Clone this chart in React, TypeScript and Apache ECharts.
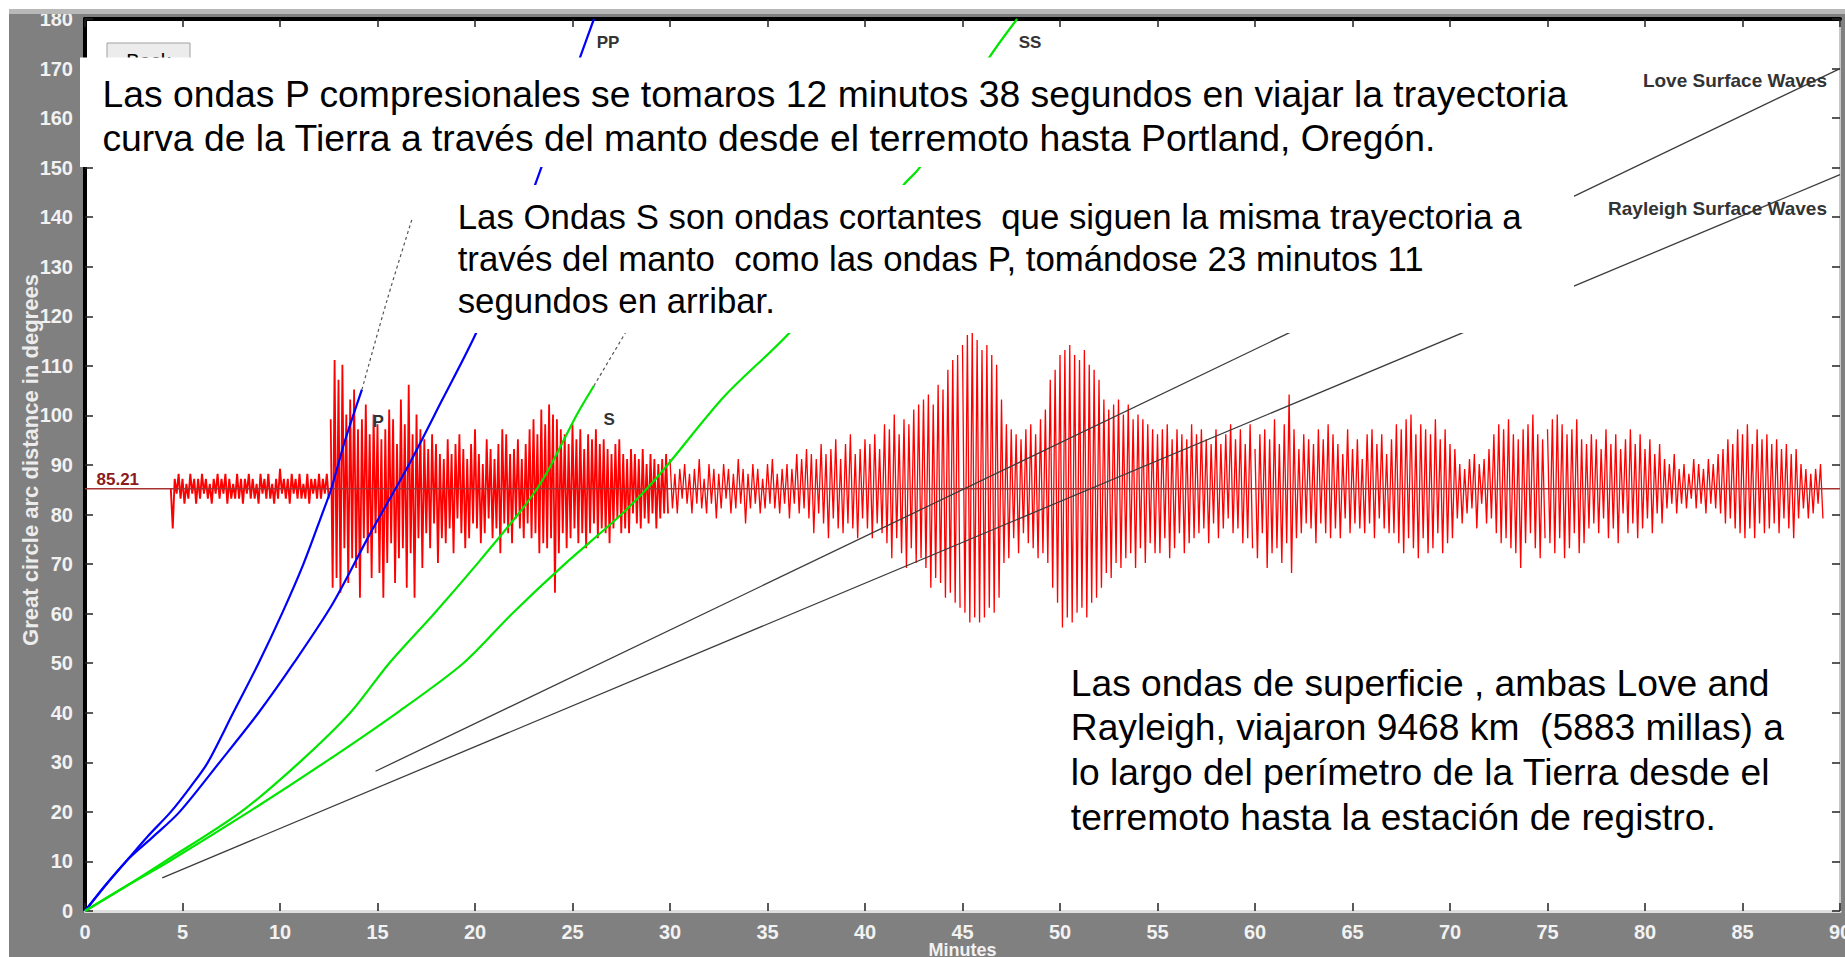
import React, { useEffect, useRef } from "react";
import * as echarts from "echarts";

// ---------- data ----------
const STATION_DISTANCE = 85.21; // degrees, Portland station
const X_MIN = 0;
const X_MAX = 90;
const X_INTERVAL = 5;
const Y_MIN = 0;
const Y_MAX = 180;
const Y_INTERVAL = 10;
const X_NAME = "Minutes";
const Y_NAME = "Great circle arc distance in degrees";

// seismogram deviations (degrees of plot offset)
const preEventNoise = [
  0, -8, 2, -1, 3, -2, 2, -3, 1, -2,
  3, -1, 2, -3, 2, -2, 3, -1, 2, -2,
  1, -3, 2, -1, 3, -2, 2, -1, 3, -3,
  2, -2, 1, -2, 3, -2, 2, -3, 2, -1,
  3, -2, 2, -2, 1, -3, 3, -1, 2, -2,
  3, -2, 1, -3, 2, -2, 4, -1, 2, -2,
  2, -3, 3, -1, 2, -2, 3, -2, 1, -2,
  3, -3, 2, -1, 2, -2, 3, -2, 2, -1,
  3, -2,
];
const bodyWaveCoda = [
  14, -20, 26, -18, 22, -21, 25, -12, 15, -19,
  18, -14, 20, -16, 12, -22, 14, -10, 17, -13,
  11, -18, 15, -9, 13, -17, 10, -22, 12, -15,
  16, -11, 14, -19, 9, -14, 18, -12, 13, -20,
  21, -13, 11, -22, 15, -10, 12, -16, 10, -9,
  8, -12, 11, -7, 9, -15, 7, -10, 6, -11,
  10, -8, 7, -13, 9, -6, 11, -9, 8, -12,
  6, -10, 9, -7, 12, -8, 7, -11, 5, -9,
  10, -6, 8, -10, 6, -8, 9, -13, 12, -7,
  11, -9, 7, -11, 8, -6, 10, -8, 6, -10,
  9, -7, 12, -10, 14, -9, 11, -13, 16, -11,
  13, -12, 17, -10, 15, -21, 14, -13, 12, -9,
  11, -12, 9, -10, 13, -8, 10, -11, 12, -9,
  8, -12, 11, -9, 10, -7, 12, -10, 9, -8,
  10, -9, 8, -11, 7, -8, 9, -6, 10, -9,
  7, -8, 6, -9, 8, -5, 7, -7, 6, -8,
  8, -6, 5, -7, 7, -5, 6, -8, 5, -6,
  6, -5, 7, -5,
];
const surfaceWavesEarly = [
  6, -4, 3, -5, 4, -2, 5, -3,
  3, -5, 4, -3, 6, -4, 2, -5,
  5, -3, 4, -6, 3, -4, 5, -2,
  4, -5, 3, -4, 6, -3, 4, -7,
  3, -4, 5, -3, 4, -5, 2, -4,
  5, -3, 6, -4, 3, -5, 4, -3,
  5, -6, 4, -3, 7, -5, 6, -4,
  8, -6, 7, -9, 6, -5, 9, -7,
  7, -10, 8, -6, 10, -8, 6, -9,
  9, -7, 11, -8, 7, -10, 8, -6,
  10, -8, 9, -10, 11, -7, 8, -9,
  13, -11, 12, -14, 15, -10, 11, -13,
  14, -16, 13, -12, 16, -15, 17, -14,
  18, -16, 19, -20, 17, -18, 21, -19,
  20, -22, 24, -21, 26, -23, 27, -24,
];
const surfaceWavesPeak = [
  29, -25, 31, -27, 32, -26, 30, -27,
  28, -26, 29, -24, 27, -25, 25, -22,
  18, -15, 13, -14, 12, -10, 11, -13,
  10, -9, 12, -11, 13, -12, 11, -14,
  14, -13, 16, -15, 22, -20, 24, -23,
  27, -28, 28, -26, 29, -27, 27, -25,
  26, -24, 28, -26, 25, -23, 24, -22,
  22, -20, 18, -17, 16, -18, 17, -15,
  18, -16, 15, -14, 17, -13, 14, -16,
  15, -12, 14, -15, 13, -11, 12, -13,
  11, -13, 12, -10, 13, -14, 10, -12,
  12, -9, 11, -13, 10, -11, 13, -10,
  11, -9, 12, -8, 10, -11, 9, -7,
  12, -10, 9, -8, 11, -6, 13, -9,
  10, -8, 12, -11, 9, -10, 13, -12,
];
const surfaceWavesLate = [
  8, -14, 11, -9, 12, -16, 10, -13,
  14, -12, 9, -15, 13, -11, 19, -17,
  12, -10, 8, -9, 11, -7, 10, -8,
  9, -11, 12, -7, 10, -9, 13, -10,
  11, -8, 9, -10, 7, -6, 12, -9,
  8, -7, 10, -8, 6, -9, 11, -7,
  12, -10, 9, -6, 11, -8, 7, -9,
  10, -9, 13, -11, 12, -13, 14, -10,
  15, -12, 11, -14, 13, -10, 12, -13,
  11, -12, 14, -9, 10, -13, 12, -11,
  9, -10, 8, -6, 5, -7, 4, -5,
  6, -4, 7, -8, 5, -3, 6, -7,
  8, -6, 11, -9, 13, -11, 12, -10,
  14, -12, 11, -13, 10, -16, 12, -11,
  13, -9, 15, -12, 11, -14, 10, -10,
];
const surfaceWavesTail = [
  12, -11, 14, -13, 15, -10, 13, -14,
  11, -12, 12, -9, 14, -13, 10, -11,
  9, -8, 11, -7, 10, -9, 8, -6,
  12, -10, 9, -8, 11, -11, 8, -5,
  10, -9, 12, -7, 9, -10, 11, -8,
  8, -6, 10, -9, 7, -5, 9, -7,
  6, -4, 5, -3, 7, -5, 4, -3,
  5, -4, 3, -2, 6, -4, 5, -3,
  4, -5, 6, -3, 5, -4, 7, -5,
  8, -7, 10, -6, 9, -8, 12, -9,
  11, -10, 13, -8, 9, -10, 12, -7,
  10, -9, 11, -8, 9, -7, 10, -9,
  8, -6, 9, -8, 7, -10, 8, -6,
  5, -4, 4, -6, 3, -5, 4, -3,
  5, -6,
];
// [start minute, sample step in minutes, values, stroke width]
const traceSegments: [number, number, number[], number][] = [
  [4.4, 0.1, preEventNoise, 1.9],
  [12.6, 0.1, bodyWaveCoda, 1.8],
  [30.0, 0.125, surfaceWavesEarly, 1.3],
  [45.0, 0.125, surfaceWavesPeak, 1.3],
  [60.0, 0.125, surfaceWavesLate, 1.3],
  [75.0, 0.125, surfaceWavesTail, 1.3],
];

// travel-time curves [minutes, degrees]
const pCurve = [[0, 0], [1.0, 5], [2.1, 10], [3.2, 15], [4.4, 20], [5.4, 25], [6.3, 30], [7.6, 40], [8.9, 50], [10.1, 60], [11.2, 70], [12.15, 80], [12.63, 85.21], [13.3, 94.5], [14.2, 105.2]];
const pDiffracted = [[14.2, 105.2], [15.5, 123.4], [16.8, 140]];
const ppCurve = [[0, 0], [2.1, 10], [3.5, 15], [4.85, 20], [6.9, 30], [8.9, 40], [10.7, 50], [12.7, 62], [14.6, 76], [16.6, 90], [18.3, 103], [20.1, 117], [21.8, 133], [23.4, 150], [25.4, 172.4], [26.1, 180]];
const sCurve = [[0, 0], [2.1, 5], [4.1, 10], [8.0, 20], [11.0, 30], [13.6, 40], [15.6, 50], [17.9, 60], [20.1, 70], [22.2, 80], [23.18, 85.21], [23.9, 90], [25.2, 100], [26.1, 106]];
const sDiffracted = [[26.1, 106], [27.7, 116.6], [28.2, 120]];
const ssCurve = [[0, 0], [2.1, 5], [4.3, 10], [8.4, 20], [12.3, 30], [16.0, 40], [19.4, 50], [21.9, 60], [24.6, 70], [27.5, 80], [29.4, 87.8], [32.8, 103.9], [36.2, 117], [39.2, 132], [42.0, 146.6], [42.8, 150], [46.4, 172.4], [47.8, 180]];
const loveLine = [[14.9, 28.2], [90, 170]];
const rayleighLine = [[3.96, 6.7], [90, 148.6]];

const annotationP = [
  "Las ondas P compresionales se tomaros 12 minutos 38 segundos en viajar la trayectoria",
  "curva de la Tierra a través del manto desde el terremoto hasta Portland, Oregón.",
];
const annotationS = [
  "Las Ondas S son ondas cortantes  que siguen la misma trayectoria a",
  "través del manto  como las ondas P, tomándose 23 minutos 11",
  "segundos en arribar.",
];
const annotationSurface = [
  "Las ondas de superficie , ambas Love and",
  "Rayleigh, viajaron 9468 km  (5883 millas) a",
  "lo largo del perímetro de la Tierra desde el",
  "terremoto hasta la estación de registro.",
];

// ---------- chart ----------
const SANS = "'Liberation Sans', Arial, sans-serif";

function segmentData(start: number, step: number, vals: number[]) {
  return vals.map((v, i) => [+(start + i * step).toFixed(4), STATION_DISTANCE + v]);
}

const tickLabel = {
  color: "#f2f2f2",
  fontFamily: SANS,
  fontWeight: "bold" as const,
  fontSize: 20,
  textShadowColor: "#000",
  textShadowBlur: 0,
  textShadowOffsetX: 1,
  textShadowOffsetY: 1,
};

function lineSeries(name: string, data: number[][], color: string, width: number, type: any = "solid", z = 4, smooth: any = false) {
  return {
    name,
    type: "line",
    data,
    symbol: "none",
    showSymbol: false,
    silent: true,
    smooth,
    z,
    lineStyle: { color, width, type },
  };
}

function textEl(text: string, x: number, y: number, size: number, opts: any = {}) {
  const align = opts.align || "left";
  return {
    type: "text",
    x,
    y,
    rotation: opts.rotation || 0,
    z: opts.z ?? 101,
    silent: true,
    style: {
      text,
      fill: opts.fill || "#000",
      fontSize: size,
      fontFamily: opts.family || SANS,
      fontWeight: opts.weight || "normal",
      align,
      textAlign: align,
      verticalAlign: "middle",
      textVerticalAlign: "middle",
      textShadowColor: opts.shadow ? "#000" : undefined,
      textShadowOffsetX: opts.shadow ? 1 : 0,
      textShadowOffsetY: opts.shadow ? 1 : 0,
      textShadowBlur: 0,
    },
  };
}

function buildOption() {
  const smallBold = { weight: "bold", fill: "#333" };
  const graphics: any[] = [
    { type: "rect", z: 1, silent: true, shape: { x: 0, y: 0, width: 1836, height: 5 }, style: { fill: "#b8b8b8" } },
    { type: "rect", z: 50, silent: true, shape: { x: 98, y: 34, width: 83, height: 30 }, style: { fill: "#ececec", stroke: "#a0a0a0", lineWidth: 1 } },
    textEl("Back", 139.5, 52, 20, { align: "center", z: 51 }),
    { type: "rect", z: 100, silent: true, shape: { x: 71, y: 48.5, width: 1494, height: 109.5 }, style: { fill: "#ffffff" } },
    { type: "rect", z: 100, silent: true, shape: { x: 438, y: 176, width: 1127, height: 148 }, style: { fill: "#ffffff" } },
    textEl("P", 363.4, 412.3, 17, smallBold),
    textEl("S", 594.6, 410, 17, smallBold),
    textEl("PP", 599, 33.4, 17, { ...smallBold, align: "center" }),
    textEl("SS", 1021, 33.4, 17, { ...smallBold, align: "center" }),
    textEl("Love Surface Waves", 1818, 71, 19, { ...smallBold, align: "right" }),
    textEl("Rayleigh Surface Waves", 1818, 199, 19, { ...smallBold, align: "right" }),
    textEl(STATION_DISTANCE.toFixed(2), 87.5, 470, 17, { weight: "bold", fill: "#8b1a1a" }),
    textEl(Y_NAME, 21, 451, 22, { align: "center", weight: "bold", fill: "#ececec", rotation: Math.PI / 2, shadow: true, z: 20 }),
    textEl(X_NAME, 953.5, 941, 18, { align: "center", weight: "bold", fill: "#f2f2f2", shadow: true, z: 20 }),
  ];
  annotationP.forEach((t, i) => graphics.push(textEl(t, 93.4, 85 + i * 43.7, 37.3)));
  annotationS.forEach((t, i) => graphics.push(textEl(t, 448.7, 207.5 + i * 41.8, 34.8)));
  annotationSurface.forEach((t, i) => graphics.push(textEl(t, 1061.8, 673.5 + i * 44.7, 37.2)));

  const traceSeries = traceSegments.map(([start, step, vals, w], k) =>
    lineSeries("Seismogram" + k, segmentData(start, step, vals), "#ff0000", w, "solid", 2)
  );

  return {
    animation: false,
    backgroundColor: "#808080",
    grid: {
      left: 76,
      right: 5,
      top: 10,
      bottom: 46,
      show: true,
      backgroundColor: "#ffffff",
      borderWidth: 0,
      containLabel: false,
      outerBoundsMode: "none",
    },
    xAxis: [
      {
        type: "value",
        position: "bottom",
        min: X_MIN,
        max: X_MAX,
        interval: X_INTERVAL,
        axisLine: { show: true, onZero: false, lineStyle: { color: "#dedede", width: 3 } },
        axisTick: { show: true, inside: true, length: 8, lineStyle: { color: "#222", width: 1.5 } },
        axisLabel: { ...tickLabel, margin: 11, showMinLabel: true, showMaxLabel: true },
        splitLine: { show: false },
      },
      {
        type: "value",
        position: "top",
        min: X_MIN,
        max: X_MAX,
        interval: X_INTERVAL,
        axisLine: { show: true, onZero: false, lineStyle: { color: "#000", width: 4 } },
        axisTick: { show: true, inside: true, length: 8, lineStyle: { color: "#222", width: 1.5 } },
        axisLabel: { show: false },
        splitLine: { show: false },
      },
    ],
    yAxis: [
      {
        type: "value",
        position: "left",
        min: Y_MIN,
        max: Y_MAX,
        interval: Y_INTERVAL,
        axisLine: { show: true, onZero: false, lineStyle: { color: "#000", width: 4 } },
        axisTick: { show: true, inside: true, length: 8, lineStyle: { color: "#222", width: 1.5 } },
        axisLabel: { ...tickLabel, margin: 12, showMinLabel: true, showMaxLabel: true },
        splitLine: { show: false },
      },
      {
        type: "value",
        position: "right",
        min: Y_MIN,
        max: Y_MAX,
        interval: Y_INTERVAL,
        axisLine: { show: true, onZero: false, lineStyle: { color: "#c8c8c8", width: 2 } },
        axisTick: { show: true, inside: true, length: 8, lineStyle: { color: "#222", width: 1.5 } },
        axisLabel: { show: false },
        splitLine: { show: false },
      },
    ],
    series: [
      ...traceSeries,
      lineSeries("Station", [[X_MIN, STATION_DISTANCE], [X_MAX, STATION_DISTANCE]], "#a83232", 1.5, "solid", 3),
      lineSeries("Love", loveLine, "#3c3c3c", 1.3),
      lineSeries("Rayleigh", rayleighLine, "#3c3c3c", 1.3),
      lineSeries("Pdiff", pDiffracted, "#555", 1.2, [3, 3], 4, 0.3),
      lineSeries("Sdiff", sDiffracted, "#555", 1.2, [3, 3], 4, 0.3),
      lineSeries("P", pCurve, "#0000ff", 2.2, "solid", 4, 0.3),
      lineSeries("PP", ppCurve, "#0000ff", 2.2, "solid", 4, 0.3),
      lineSeries("S", sCurve, "#00e600", 2.2, "solid", 4, 0.3),
      lineSeries("SS", ssCurve, "#00e600", 2.2, "solid", 4, 0.3),
    ],
    graphic: { elements: graphics },
  };
}

export default function App() {
  const ref = useRef<HTMLDivElement>(null);
  useEffect(() => {
    if (!ref.current) return;
    const chart = echarts.init(ref.current, null, { renderer: "svg" });
    chart.setOption(buildOption() as any);
    return () => chart.dispose();
  }, []);
  return (
    <div
      ref={ref}
      style={{ position: "absolute", left: 9, top: 9, width: 1836, height: 948 }}
    />
  );
}
